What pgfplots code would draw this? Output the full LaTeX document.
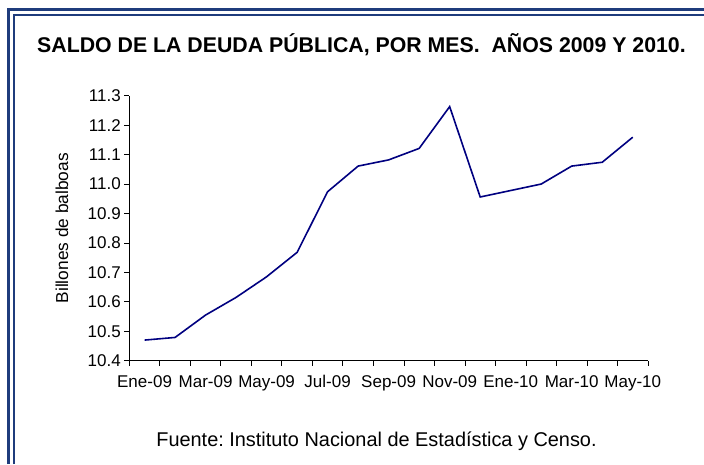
\documentclass[border=0pt]{standalone}
\usepackage{fontspec}
\setmainfont{Liberation Sans}
\usepackage{pgfplots}
\usepackage{pgfplotstable}
\pgfplotsset{compat=1.18}
\definecolor{frameblue}{HTML}{1F3C7C}
\definecolor{navyline}{HTML}{000080}
\frenchspacing

% saldo mensual, billones de balboas (1 = Ene-09 ... 17 = May-10)
\pgfplotstableread{
mes valor
1  10.470
2  10.479
3  10.555
4  10.615
5  10.685
6  10.768
7  10.974
8  11.061
9  11.082
10 11.121
11 11.263
12 10.956
13 10.978
14 11.000
15 11.061
16 11.074
17 11.159
}\deuda

\begin{document}
\begin{tikzpicture}[x=1pt,y=1pt]
\useasboundingbox (0,0) rectangle (704,464);
\fill[white] (0,0) rectangle (704,464);
% marco doble
\draw[frameblue, line width=2.5pt] (8.5,0) -- (8.5,454.5) -- (704,454.5);
\draw[frameblue, line width=2pt] (14,0) -- (14,449) -- (704,449);

\node[font=\bfseries\fontsize{21.3}{25}\selectfont] at (361.5,419) {SALDO DE LA DEUDA PÚBLICA, POR MES.\ \ AÑOS 2009 Y 2010.};

\begin{axis}[at={(129.3pt,103.3pt)}, anchor=south west, scale only axis,
  width=518.7pt, height=265pt,
  xmin=0.5, xmax=17.5, ymin=10.4, ymax=11.3,
  axis lines=left, axis line style={-, black, line width=0.8pt},
  tick align=outside, major tick length=5pt, minor tick length=5pt,
  tick style={black, line width=0.8pt},
  xtick={1,3,5,7,9,11,13,15,17},
  xticklabels={Ene-09,Mar-09,May-09,Jul-09,Sep-09,Nov-09,Ene-10,Mar-10,May-10},
  major x tick style={draw=none},
  minor xtick={0.5,1.5,2.5,3.5,4.5,5.5,6.5,7.5,8.5,9.5,10.5,11.5,12.5,13.5,14.5,15.5,16.5,17.5},
  ytick={10.4,10.5,10.6,10.7,10.8,10.9,11.0,11.1,11.2,11.3},
  yticklabel style={/pgf/number format/fixed, /pgf/number format/fixed zerofill, /pgf/number format/precision=1},
  /pgf/number format/assume math mode=true,
  tick label style={font=\fontsize{17}{20}\selectfont, black},
  xticklabel style={yshift=-6pt},
  ylabel={Billones de balboas},
  every axis y label/.style={at={(axis description cs:-0.1298,0.5)}, rotate=90, anchor=center, font=\fontsize{17.3}{20}\selectfont},
]
\addplot[navyline, line width=1.6pt, mark=none] table[x=mes, y=valor] {\deuda};
\end{axis}

\node[font=\fontsize{19.9}{24}\selectfont] at (376.5,23) {Fuente: Instituto Nacional de Estadística y Censo.};
\end{tikzpicture}
\end{document}
